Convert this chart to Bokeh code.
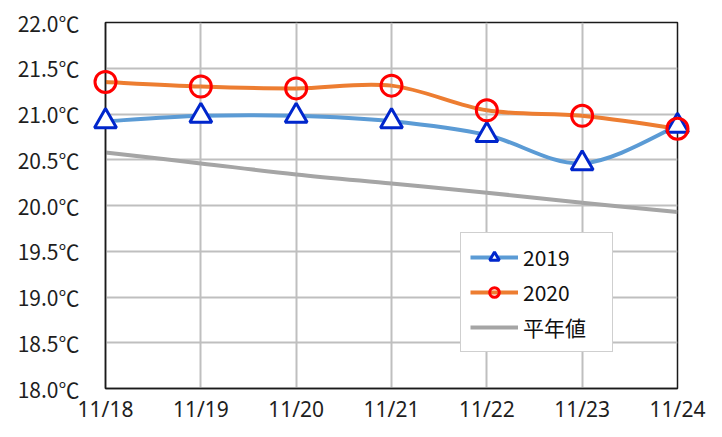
import numpy as np
from bokeh.plotting import figure
from bokeh.models import Range1d, FixedTicker, PrintfTickFormatter, Legend, LegendItem, ColumnDataSource
from bokeh.embed import file_html
from bokeh.resources import INLINE

# ---- data ----
dates = ["11/18", "11/19", "11/20", "11/21", "11/22", "11/23", "11/24"]
temp_2019 = [20.92, 20.98, 20.98, 20.92, 20.77, 20.46, 20.87]
temp_2020 = [21.35, 21.30, 21.28, 21.31, 21.04, 20.98, 20.84]
temp_normal = [20.58, 20.46, 20.34, 20.24, 20.14, 20.03, 19.93]
y_ticks = [18.0, 18.5, 19.0, 19.5, 20.0, 20.5, 21.0, 21.5, 22.0]
series_labels = ["2019", "2020", "平年値"]

FONT = "Noto Sans CJK JP"
xs = np.arange(len(dates), dtype=float)


def smooth_segments(x, y):
    """Catmull-Rom style bezier segments through the data points (Excel-like smoothing)."""
    x = np.asarray(x, float)
    y = np.asarray(y, float)
    n = len(x)
    xp = np.concatenate([[x[0]], x, [x[-1]]])
    yp = np.concatenate([[y[0]], y, [y[-1]]])
    d = dict(x0=[], y0=[], x1=[], y1=[], cx0=[], cy0=[], cx1=[], cy1=[])
    for i in range(n - 1):
        p0x, p0y = xp[i], yp[i]
        p1x, p1y = xp[i + 1], yp[i + 1]
        p2x, p2y = xp[i + 2], yp[i + 2]
        p3x, p3y = xp[i + 3], yp[i + 3]
        d["x0"].append(p1x); d["y0"].append(p1y)
        d["x1"].append(p2x); d["y1"].append(p2y)
        d["cx0"].append(p1x + (p2x - p0x) / 6); d["cy0"].append(p1y + (p2y - p0y) / 6)
        d["cx1"].append(p2x - (p3x - p1x) / 6); d["cy1"].append(p2y - (p3y - p1y) / 6)
    return ColumnDataSource(d)


p = figure(frame_width=572, frame_height=366, output_backend="svg", toolbar_location=None,
           x_range=Range1d(0, len(dates) - 1), y_range=Range1d(y_ticks[0], y_ticks[-1]),
           min_border_left=105, min_border_right=29, min_border_top=22, min_border_bottom=0)
p.background_fill_color = "white"
p.border_fill_color = "white"
p.outline_line_color = "#1a1a1a"
p.outline_line_width = 1.5

# axes
p.xaxis.ticker = FixedTicker(ticks=list(xs))
overrides = {i: d for i, d in enumerate(dates)}
overrides.update({float(i): d for i, d in enumerate(dates)})
p.xaxis.major_label_overrides = overrides
p.yaxis.ticker = FixedTicker(ticks=y_ticks)
p.yaxis.formatter = PrintfTickFormatter(format="%.1f℃")
for ax in (p.xaxis[0], p.yaxis[0]):
    ax.major_tick_line_color = None
    ax.minor_tick_line_color = None
    ax.major_tick_out = 0
    ax.major_tick_in = 0
    ax.major_label_text_font_size = "21px"
    ax.major_label_text_color = "#1e1e1e"
    ax.axis_line_color = "#1a1a1a"
    ax.axis_line_width = 1.5
p.yaxis.major_label_text_font = FONT
p.xaxis.major_label_text_font = "Noto Sans"
p.xaxis.major_label_standoff = 6
p.yaxis.major_label_standoff = 26

p.xgrid.ticker = FixedTicker(ticks=list(xs))
p.ygrid.ticker = FixedTicker(ticks=y_ticks)
for g in (p.xgrid[0], p.ygrid[0]):
    g.grid_line_color = "#bfbfbf"
    g.grid_line_width = 2

# series
r_norm = p.bezier("x0", "y0", "x1", "y1", "cx0", "cy0", "cx1", "cy1",
                  source=smooth_segments(xs, temp_normal), line_color="#a5a5a5", line_width=4)
r_19 = p.bezier("x0", "y0", "x1", "y1", "cx0", "cy0", "cx1", "cy1",
                source=smooth_segments(xs, temp_2019), line_color="#5b9bd5", line_width=4)
m_19 = p.scatter(xs, temp_2019, marker="triangle", size=22, line_color="#0026cc",
                 line_width=3, fill_color="white", level="overlay")
r_20 = p.bezier("x0", "y0", "x1", "y1", "cx0", "cy0", "cx1", "cy1",
                source=smooth_segments(xs, temp_2020), line_color="#ed7d31", line_width=4)
m_20 = p.scatter(xs, temp_2020, marker="circle", size=21, line_color="#ff0000",
                 line_width=3, fill_color=None, level="overlay")

legend = Legend(items=[
    LegendItem(label=series_labels[0], renderers=[r_19, m_19]),
    LegendItem(label=series_labels[1], renderers=[r_20, m_20]),
    LegendItem(label=series_labels[2], renderers=[r_norm]),
], location=(355, 36))
legend.label_text_font = FONT
legend.label_text_font_size = "21px"
legend.label_text_color = "#111111"
legend.glyph_width = 48
legend.glyph_height = 24
legend.label_height = 24
legend.label_width = 80
legend.label_standoff = 5
legend.spacing = 5
legend.padding = 9
legend.margin = 0
legend.border_line_color = "#a0a0a0"
legend.border_line_width = 1.5
legend.background_fill_color = "white"
legend.background_fill_alpha = 1
p.add_layout(legend, "center")

open("out.html", "w").write(file_html(p, INLINE))
